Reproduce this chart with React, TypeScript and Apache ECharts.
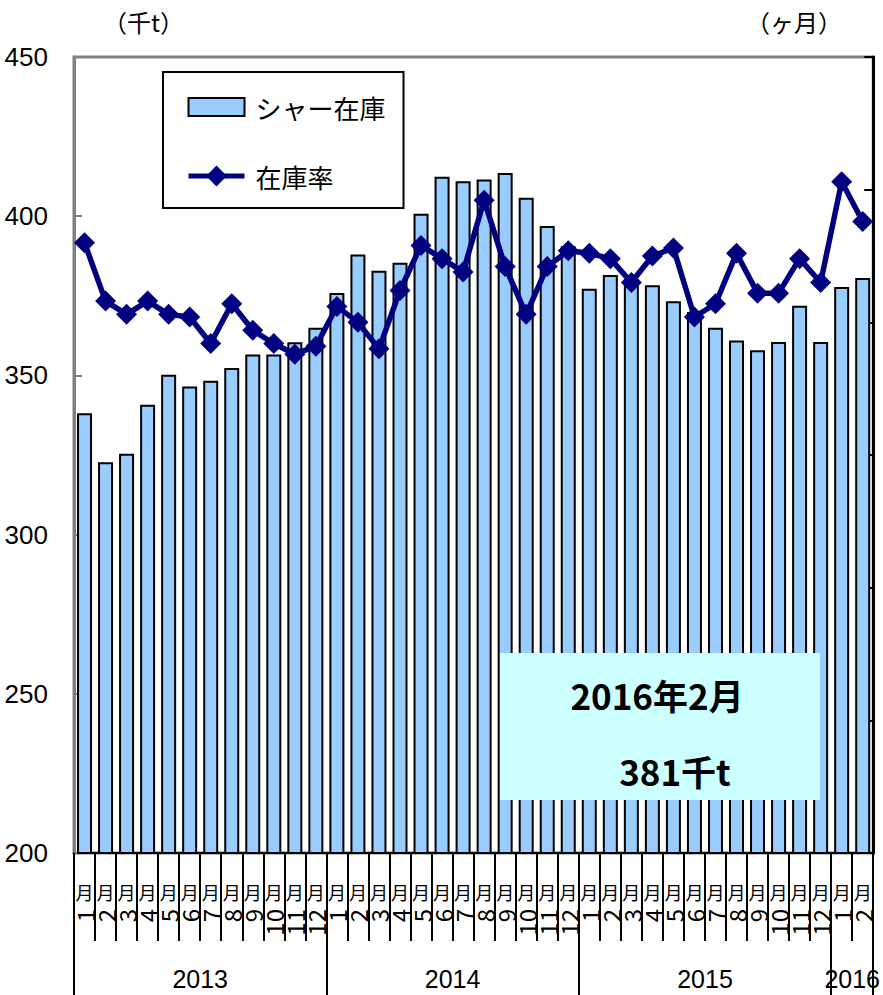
import { useEffect, useRef } from 'react';
import * as echarts from 'echarts';

const monthNumbers = [
  '1', '2', '3', '4', '5', '6', '7', '8', '9', '10', '11', '12',
  '1', '2', '3', '4', '5', '6', '7', '8', '9', '10', '11', '12',
  '1', '2', '3', '4', '5', '6', '7', '8', '9', '10', '11', '12',
  '1', '2',
];
const monthUnit = '月';
const years = ['2013', '2014', '2015', '2016'];
const monthsPerYear = [12, 12, 12, 2];

// シャー在庫 (千t)
const shearStock = [
  338.1, 322.7, 325.4, 340.8, 350.2, 346.5, 348.3, 352.3, 356.6, 356.6, 360.4, 365.0,
  375.9, 388.0, 382.9, 385.4, 400.8, 412.4, 411.0, 411.5, 413.6, 405.8, 396.9, 390.6,
  377.2, 381.5, 380.0, 378.3, 373.3, 369.9, 365.0, 361.0, 357.9, 360.5, 371.9, 360.5,
  377.8, 380.6,
];
// 在庫率 (ヶ月)
const stockRatio = [
  2.30, 2.08, 2.03, 2.08, 2.03, 2.02, 1.92, 2.07, 1.97, 1.92, 1.88, 1.91,
  2.06, 2.00, 1.90, 2.12, 2.29, 2.24, 2.19, 2.46, 2.21, 2.03, 2.21, 2.27,
  2.26, 2.24, 2.15, 2.25, 2.28, 2.02, 2.07, 2.26, 2.11, 2.11, 2.24, 2.15,
  2.53, 2.38,
];

const seriesNames = ['シャー在庫', '在庫率'];
const leftUnit = '（千t）';
const rightUnit = '（ヶ月）';
const boxLines = ['2016年2月', '381千t'];

const JP = '"Noto Sans CJK JP", sans-serif';
const LAT = '"Liberation Sans", Arial, sans-serif';

export default function App() {
  const ref = useRef<HTMLDivElement>(null);

  useEffect(() => {
    if (!ref.current) return;
    const chart = echarts.init(ref.current, null, { renderer: 'svg' });

    const yearCategory: string[] = [];
    const yearStarts: number[] = [];
    const yearLabelIdx: number[] = [];
    years.forEach((y, k) => {
      yearStarts.push(yearCategory.length);
      yearLabelIdx.push(yearCategory.length + monthsPerYear[k] / 2);
      for (let i = 0; i < monthsPerYear[k]; i++) yearCategory.push(y);
    });

    chart.setOption({
      animation: false,
      backgroundColor: '#ffffff',
      grid: {
        left: 74,
        right: 9,
        top: 57,
        bottom: 142,
        show: true,
        borderColor: '#808080',
        borderWidth: 3,
        backgroundColor: 'transparent',
      },
      legend: {
        orient: 'vertical',
        left: 163,
        top: 72,
        padding: [21, 18, 19, 23],
        itemGap: 42,
        itemWidth: 56,
        itemHeight: 26,
        borderColor: '#000',
        borderWidth: 2,
        backgroundColor: '#fff',
        lineStyle: { width: 5 },
        textStyle: { fontFamily: JP, fontSize: 26, color: '#000', padding: [0, 0, 0, 6] },
        data: [
          { name: seriesNames[0], icon: 'path://M0,0M0,26M0,4L56,4L56,22L0,22Z' },
          { name: seriesNames[1] },
        ],
      },
      xAxis: [
        {
          type: 'category',
          data: monthNumbers,
          position: 'bottom',
          boundaryGap: true,
          axisLine: { show: true, lineStyle: { color: '#000', width: 2 } },
          axisTick: { show: true, interval: 0, length: 88, lineStyle: { color: '#000', width: 2 } },
          axisLabel: {
            interval: 0,
            rotate: 90,
            margin: 56,
            fontFamily: JP,
            fontSize: 24,
            color: '#000',
          },
          splitLine: { show: false },
        },
        {
          type: 'category',
          data: yearCategory,
          position: 'bottom',
          boundaryGap: true,
          axisLine: { show: false },
          axisTick: {
            show: true,
            interval: (i: number) => yearStarts.includes(i),
            length: 142,
            lineStyle: { color: '#000', width: 2 },
          },
          axisLabel: {
            interval: (i: number) => yearLabelIdx.includes(i),
            margin: 113,
            formatter: (v: string) => `{y|${v}}`,
            rich: {
              y: { fontFamily: LAT, fontSize: 25, color: '#000', padding: [0, 21, 0, 0] },
            },
          },
          splitLine: { show: false },
        },
        {
          type: 'category',
          data: monthNumbers,
          position: 'bottom',
          boundaryGap: true,
          axisLine: { show: false },
          axisTick: { show: false },
          axisLabel: {
            interval: 0,
            margin: 30,
            formatter: () => monthUnit,
            fontFamily: JP,
            fontSize: 18,
            color: '#000',
          },
          splitLine: { show: false },
        },
      ],
      yAxis: [
        {
          type: 'value',
          min: 200,
          max: 450,
          interval: 50,
          position: 'left',
          axisLine: { show: true, lineStyle: { color: '#808080', width: 3 } },
          axisTick: { show: true, inside: true, length: 8, lineStyle: { color: '#808080', width: 2 } },
          axisLabel: { fontFamily: LAT, fontSize: 26, color: '#000', margin: 26 },
          splitLine: { show: false },
        },
        {
          type: 'value',
          min: 0,
          max: 3,
          interval: 0.5,
          position: 'right',
          axisLine: { show: true, lineStyle: { color: '#000', width: 3 } },
          axisTick: { show: true, inside: true, length: 9, lineStyle: { color: '#000', width: 2 } },
          axisLabel: { show: false },
          splitLine: { show: false },
        },
      ],
      series: [
        {
          name: seriesNames[0],
          type: 'bar',
          xAxisIndex: 0,
          yAxisIndex: 0,
          data: shearStock,
          barWidth: 15,
          itemStyle: { color: '#99ccff', borderColor: '#000', borderWidth: 2 },
          z: 2,
        },
        {
          name: seriesNames[1],
          type: 'line',
          xAxisIndex: 0,
          yAxisIndex: 1,
          data: stockRatio,
          symbol: 'diamond',
          symbolSize: 21,
          lineStyle: { color: '#000080', width: 5.5 },
          itemStyle: { color: '#000080' },
          z: 3,
        },
      ],
      graphic: [
        {
          type: 'text',
          left: 103,
          top: 9,
          style: { text: leftUnit, fontFamily: JP, fontSize: 24, fill: '#000' },
        },
        {
          type: 'text',
          left: 746,
          top: 9,
          style: { text: rightUnit, fontFamily: JP, fontSize: 24, fill: '#000' },
        },
        {
          type: 'rect',
          shape: { x: 500, y: 653, width: 320, height: 147 },
          style: { fill: '#ccffff' },
          z: 100,
        },
        {
          type: 'text',
          x: 657,
          y: 694,
          z: 101,
          style: {
            text: boxLines[0],
            fontFamily: JP,
            fontWeight: 'bold',
            fontSize: 35,
            fill: '#000',
            align: 'center',
            verticalAlign: 'middle',
          },
        },
        {
          type: 'text',
          x: 675,
          y: 770,
          z: 101,
          style: {
            text: boxLines[1],
            fontFamily: JP,
            fontWeight: 'bold',
            fontSize: 35,
            fill: '#000',
            align: 'center',
            verticalAlign: 'middle',
          },
        },
      ],
    });

    return () => chart.dispose();
  }, []);

  return (
    <div
      ref={ref}
      style={{ position: 'fixed', left: 0, top: 0, width: 883, height: 995, background: '#fff' }}
    />
  );
}
